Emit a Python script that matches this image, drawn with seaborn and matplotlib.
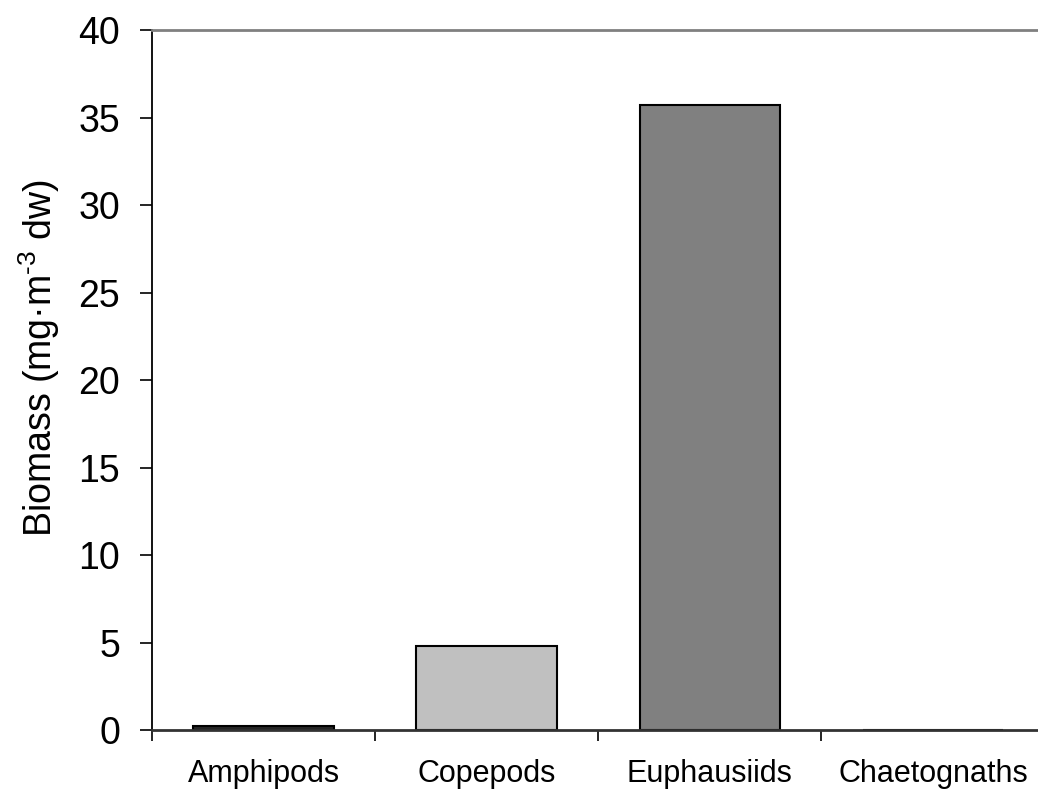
import matplotlib
matplotlib.use("Agg")
import matplotlib.pyplot as plt
import seaborn as sns
import pandas as pd

groups = ["Amphipods", "Copepods", "Euphausiids", "Chaetognaths"]
biomass = [0.25, 4.8, 35.7, 0.0]
bar_colors = ["#262626", "#C0C0C0", "#808080", "#FFFFFF"]

sns.set_style("white")
plt.rcParams["font.family"] = ["Liberation Sans", "DejaVu Sans"]
plt.rcParams["mathtext.fontset"] = "custom"
plt.rcParams["mathtext.rm"] = "Liberation Sans"
plt.rcParams["mathtext.it"] = "Liberation Sans"
plt.rcParams["text.color"] = "black"
plt.rcParams["axes.labelcolor"] = "black"
plt.rcParams["xtick.color"] = "black"
plt.rcParams["ytick.color"] = "black"

df = pd.DataFrame({"group": groups, "biomass": biomass})

fig = plt.figure(figsize=(10.38, 7.93), dpi=100)
ax = fig.add_axes([0.1464, 0.0794, 0.86, 0.8826])

sns.barplot(data=df, x="group", y="biomass", hue="group", palette=bar_colors,
            width=0.63, edgecolor="black", linewidth=1.5, legend=False, ax=ax)

ax.set_xlim(-0.5, 3.5)
ax.set_ylim(0, 40)
ax.set_yticks(range(0, 41, 5))
ax.tick_params(axis="y", direction="out", length=9, width=1.2, color="black",
               labelcolor="black", labelsize=27, pad=14, left=True)
ax.set_xticks(range(len(groups)))
ax.set_xticklabels(groups)
ax.set_xticks([i - 0.5 for i in range(len(groups) + 1)], minor=True)
ax.tick_params(axis="x", which="major", length=0, labelsize=22, pad=21,
               labelcolor="black")
ax.tick_params(axis="x", which="minor", direction="out", length=8, width=1.2,
               color="black", bottom=True)

ax.set_xlabel("")
ax.set_ylabel(r"Biomass (mg·m$^{\text{-3}}$ dw)", fontsize=27, color="black")
ax.yaxis.set_label_coords(-0.101, 0.531)

for side in ["left", "bottom", "top"]:
    ax.spines[side].set_visible(True)
ax.spines["right"].set_visible(False)
ax.spines["left"].set_color("black")
ax.spines["left"].set_linewidth(1.3)
ax.spines["bottom"].set_color("#333333")
ax.spines["bottom"].set_linewidth(2)
ax.spines["top"].set_color("#808080")
ax.spines["top"].set_linewidth(2)

fig.savefig("out.png", dpi=100)
